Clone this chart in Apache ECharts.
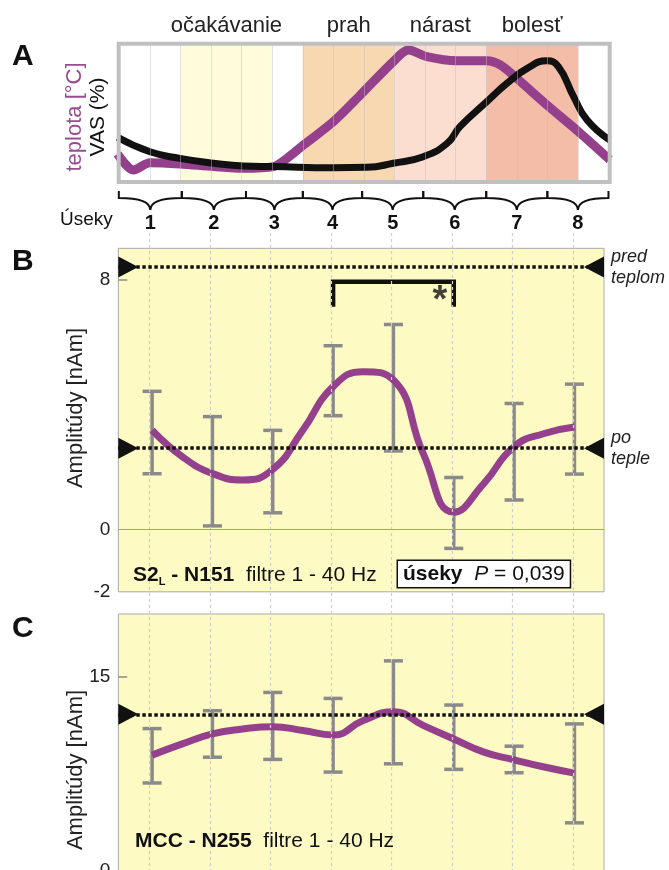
<!DOCTYPE html>
<html>
<head>
<meta charset="utf-8">
<script src="https://cdn.jsdelivr.net/npm/echarts@6/dist/echarts.min.js"></script>
<style>
  html, body { margin: 0; padding: 0; overflow: hidden; background: #fff; }
  #chart { width: 669px; height: 890px; }
</style>
</head>
<body>
<div id="chart"></div>
<script>
// úseky (segments)
const segments = ['1', '2', '3', '4', '5', '6', '7', '8'];
const segX = [1, 2, 3, 4, 5, 6, 7, 8];

// A: stimulus stages
const stageNames = ['očakávanie', 'prah', 'nárast', 'bolesť'];
const stageFrom = [1.5, 3.5, 5.0, 6.5];
const stageTo = [3.0, 5.0, 6.5, 8.0];
const stageColors = ['#fffcdb', '#f8d8b1', '#fbdecf', '#f3bda7'];
const stripeLines = [1, 1.5, 2, 2.5, 3, 3.5, 4, 4.5, 5, 5.5, 6, 6.5, 7, 7.5, 8];
const braceEdges = [0.49, 1.52, 2.57, 3.5, 4.47, 5.47, 6.5, 7.5, 8.5];

// A: teplota / VAS (relative scale)
const tempX = [0.47, 0.73, 1.0, 1.49, 2.04, 2.53, 3.02, 3.24, 3.51, 4.0, 4.44, 4.98, 5.23, 5.53, 6.02, 6.51, 6.73, 7.0, 7.52, 8.04, 8.52];
const tempY = [20, 8.6, 13.8, 12.9, 11.0, 9.8, 11.0, 16.9, 26.4, 43.1, 62.1, 86, 94.3, 89.5, 86.6, 86.6, 83.6, 74, 54, 34.8, 16];
const vasX = [0.47, 1.0, 1.49, 2.04, 2.53, 3.02, 4.0, 4.55, 4.98, 5.47, 5.86, 6.07, 6.51, 6.84, 7.17, 7.49, 7.68, 7.93, 8.15, 8.52];
const vasY = [32, 21.6, 16.9, 13.4, 11.4, 11.0, 10.2, 10.5, 13.4, 18.1, 27.6, 39.5, 57.4, 70.5, 81.2, 86.6, 82.4, 61, 44.3, 30];

// B: S2L - N151
const curveX = [1, 1.5, 2, 2.5, 3, 3.5, 4, 4.5, 5, 5.5, 6, 6.5, 7, 7.5, 8];
const s2Curve = [3.18, 2.33, 1.79, 1.58, 1.92, 3.18, 4.57, 5.05, 4.78, 2.4, 0.55, 1.47, 2.65, 3.07, 3.28];
const s2Hi = [4.42, 3.61, 3.17, 5.88, 6.56, 1.66, 4.03, 4.65];
const s2Lo = [1.78, 0.11, 0.53, 3.64, 2.51, -0.61, 0.94, 1.77];
const s2Pred = 8.4;   // pred teplom
const s2Po = 2.6;     // po teple
const sigPair = [4, 6];
const sigTop = 7.93;
const sigLeg = 7.13;

// C: MCC - N255
const mccCurve = [8.95, 9.82, 10.59, 10.97, 11.15, 10.85, 10.51, 11.62, 12.3, 11.23, 10.2, 9.18, 8.59, 8.03, 7.56];
const mccHi = [11.0, 12.38, 13.79, 13.33, 16.23, 12.82, 9.64, 11.36];
const mccLo = [6.8, 8.79, 8.62, 7.64, 8.28, 7.85, 7.59, 3.72];
const mccBase = 12.1;

const FONT = "'Liberation Sans', Arial, Helvetica, sans-serif";
const PURPLE = '#94408c';
const GREY = '#8a8a8a';
const YELLOW = '#fefac4';

const chart = echarts.init(document.getElementById('chart'));

//chybové úsečky
function errorBar(params, api) {
  const x = api.value(0);
  const hi = api.coord([x, api.value(1)]);
  const lo = api.coord([x, api.value(2)]);
  const w = 9.5;
  const style = { stroke: GREY, lineWidth: 3.5, fill: null };
  return {
    type: 'group',
    children: [
      { type: 'line', shape: { x1: hi[0], y1: hi[1], x2: lo[0], y2: lo[1] }, style: style },
      { type: 'line', shape: { x1: hi[0] - w, y1: hi[1], x2: hi[0] + w, y2: hi[1] }, style: style },
      { type: 'line', shape: { x1: lo[0] - w, y1: lo[1], x2: lo[0] + w, y2: lo[1] }, style: style }
    ]
  };
}

//zložené zátvorky pod panelom A
function brace(params, api) {
  const a = api.coord([api.value(0), 0]);
  const b = api.coord([api.value(1), 0]);
  const y0 = a[1] + 9, y1 = a[1] + 16, y2 = a[1] + 28;
  const xm = (a[0] + b[0]) / 2;
  return {
    type: 'group',
    children: [
      {
        type: 'path',
        shape: { pathData: 'M' + a[0] + ',' + y0 + 'L' + a[0] + ',' + y1 + 'Q' + xm + ',' + y1 + ' ' + xm + ',' + y2 +
          'Q' + xm + ',' + y1 + ' ' + b[0] + ',' + y1 + 'L' + b[0] + ',' + y0 },
        style: { stroke: '#111', lineWidth: 2, fill: null }
      },
      {
        type: 'text', x: xm, y: a[1] + 41,
        style: { text: segments[params.dataIndex], fontSize: 20, fontWeight: 'bold', fontFamily: FONT, fill: '#111', align: 'center', verticalAlign: 'middle' }
      }
    ]
  };
}

function edgeTriangles(xMin, xMax, vals) {
  const out = [];
  vals.forEach(function (v) {
    out.push({ value: [xMin, v], symbol: 'path://M0,0L1,0.5L0,1Z', symbolOffset: [10, 0] });
    out.push({ value: [xMax, v], symbol: 'path://M1,0L0,0.5L1,1Z', symbolOffset: [-10, 0] });
  });
  return out;
}

function dottedLine(v, text) {
  return {
    yAxis: v,
    lineStyle: { color: '#111', width: 3.5, type: [3.5, 2.5] },
    label: text ? {
      show: true, position: 'end', distance: 7, formatter: text,
      fontSize: 18, fontStyle: 'italic', lineHeight: 21, color: '#222', fontFamily: FONT, align: 'left'
    } : { show: false }
  };
}

const bxMin = 0.44, bxMax = 8.49;

const option = {
  animation: false,
  textStyle: { fontFamily: FONT },
  grid: [
    { left: 118.7, top: 43.7, width: 491, height: 138.3, show: true, backgroundColor: 'transparent', borderColor: '#c0c0c0', borderWidth: 4, z: 10 },
    { left: 118.3, top: 248.3, width: 485.7, height: 343.5, show: true, backgroundColor: YELLOW, borderColor: '#a8a8a8', borderWidth: 1 },
    { left: 118.3, top: 614, width: 485.7, height: 257, show: true, backgroundColor: YELLOW, borderColor: '#a8a8a8', borderWidth: 1 },
    { left: 118.3, top: 232, width: 485.7, height: 658 }
  ],
  xAxis: [
    { gridIndex: 0, type: 'value', min: 0.488, max: 8.52, show: false },
    { gridIndex: 1, type: 'value', min: bxMin, max: bxMax, show: false },
    { gridIndex: 2, type: 'value', min: bxMin, max: bxMax, show: false },
    { gridIndex: 3, type: 'value', min: 0.488, max: 8.507, show: false }
  ],
  yAxis: [
    { gridIndex: 0, type: 'value', min: 0, max: 98.8, show: false },
    {
      gridIndex: 1, type: 'value', min: -2, max: 9,
      axisLine: { show: false }, splitLine: { show: false },
      axisTick: { show: true, inside: true, length: 9, customValues: [8], lineStyle: { color: GREY, width: 1.5 } },
      axisLabel: { customValues: [-2, 0, 8], fontSize: 19, color: '#222', margin: 8 }
    },
    {
      gridIndex: 2, type: 'value', min: 0, max: 19.85,
      axisLine: { show: false }, splitLine: { show: false },
      axisTick: { show: true, inside: true, length: 9, customValues: [15], lineStyle: { color: GREY, width: 1.5 } },
      axisLabel: { customValues: [0, 15], fontSize: 19, color: '#222', margin: 8 }
    },
    { gridIndex: 3, type: 'value', min: 0, max: 1, show: false }
  ],
  series: [
    // A: fázy podnetu
    {
      type: 'line', xAxisIndex: 0, yAxisIndex: 0, data: [], symbol: 'none', z: 1,
      markArea: {
        silent: true,
        label: { show: true, position: 'top', distance: 7, fontSize: 22, color: '#222', fontFamily: FONT },
        data: stageNames.map(function (n, i) {
          return [{ xAxis: stageFrom[i], name: n, itemStyle: { color: stageColors[i] } }, { xAxis: stageTo[i] }];
        })
      },
      markLine: {
        silent: true, symbol: ['none', 'none'], label: { show: false },
        lineStyle: { color: 'rgba(190,190,190,0.45)', width: 1, type: 'solid' },
        data: stripeLines.map(function (x) { return { xAxis: x }; })
      }
    },
    {
      name: 'teplota', type: 'line', xAxisIndex: 0, yAxisIndex: 0, z: 3, symbol: 'none', smooth: 0.3,
      lineStyle: { color: PURPLE, width: 9 },
      data: tempX.map(function (x, i) { return [x, tempY[i]]; })
    },
    {
      name: 'VAS', type: 'line', xAxisIndex: 0, yAxisIndex: 0, z: 4, symbol: 'none', smooth: 0.5,
      lineStyle: { color: '#111', width: 7 },
      data: vasX.map(function (x, i) { return [x, vasY[i]]; })
    },
    {
      type: 'custom', xAxisIndex: 0, yAxisIndex: 0, clip: false, silent: true,
      renderItem: brace,
      data: segments.map(function (s, i) { return [braceEdges[i], braceEdges[i + 1]]; })
    },
    // vertikálne pomocné čiary
    {
      type: 'line', xAxisIndex: 3, yAxisIndex: 3, data: [], symbol: 'none', z: 1,
      markLine: {
        silent: true, symbol: ['none', 'none'], label: { show: false },
        lineStyle: { color: '#cfcfcf', width: 1.2, type: [3, 3] },
        data: segX.map(function (x) { return { xAxis: x }; })
      }
    },
    // B
    {
      type: 'line', xAxisIndex: 1, yAxisIndex: 1, data: [], symbol: 'none', z: 2,
      markLine: {
        silent: true, symbol: ['none', 'none'],
        data: [
          { yAxis: 0, lineStyle: { color: '#a0a0a0', width: 1, type: 'solid' }, label: { show: false } },
          dottedLine(s2Pred, 'pred\nteplom'),
          dottedLine(s2Po, 'po\nteple')
        ]
      }
    },
    {
      type: 'custom', xAxisIndex: 1, yAxisIndex: 1, z: 3, renderItem: errorBar,
      data: segX.map(function (x, i) { return [x, s2Hi[i], s2Lo[i]]; })
    },
    {
      type: 'line', xAxisIndex: 1, yAxisIndex: 1, z: 4, symbol: 'none', smooth: 0.5,
      lineStyle: { color: PURPLE, width: 7 },
      data: curveX.map(function (x, i) { return [x, s2Curve[i]]; })
    },
    {
      type: 'line', xAxisIndex: 1, yAxisIndex: 1, z: 4, symbol: 'none',
      lineStyle: { color: '#111', width: 4.5, join: 'miter', cap: 'butt' },
      data: [[sigPair[0], sigLeg], [sigPair[0], sigTop], [sigPair[1], sigTop], [sigPair[1], sigLeg]]
    },
    {
      type: 'scatter', xAxisIndex: 1, yAxisIndex: 1, z: 4, symbolSize: 0, silent: true,
      label: { show: true, formatter: '*', position: 'inside', offset: [0, 9], fontSize: 38, fontWeight: 'bold', color: '#111' },
      data: [[sigPair[1] - 0.23, (sigTop + sigLeg) / 2 + 0.07]]
    },
    {
      type: 'scatter', xAxisIndex: 1, yAxisIndex: 1, z: 5, clip: false, silent: true,
      symbolSize: [20, 21], itemStyle: { color: '#111', opacity: 1 },
      data: edgeTriangles(bxMin, bxMax, [s2Pred, s2Po])
    },
    // C
    {
      type: 'line', xAxisIndex: 2, yAxisIndex: 2, data: [], symbol: 'none', z: 2,
      markLine: { silent: true, symbol: ['none', 'none'], data: [dottedLine(mccBase, null)] }
    },
    {
      type: 'custom', xAxisIndex: 2, yAxisIndex: 2, z: 3, renderItem: errorBar,
      data: segX.map(function (x, i) { return [x, mccHi[i], mccLo[i]]; })
    },
    {
      type: 'line', xAxisIndex: 2, yAxisIndex: 2, z: 4, symbol: 'none', smooth: 0.5,
      lineStyle: { color: PURPLE, width: 7 },
      data: curveX.map(function (x, i) { return [x, mccCurve[i]]; })
    },
    {
      type: 'scatter', xAxisIndex: 2, yAxisIndex: 2, z: 5, clip: false, silent: true,
      symbolSize: [20, 21], itemStyle: { color: '#111', opacity: 1 },
      data: edgeTriangles(bxMin, bxMax, [mccBase])
    }
  ],
  graphic: [
    { type: 'text', x: 12, y: 57, style: { text: 'A', fontSize: 30, fontWeight: 'bold', fontFamily: FONT, fill: '#111', verticalAlign: 'middle' } },
    { type: 'text', x: 12, y: 262, style: { text: 'B', fontSize: 30, fontWeight: 'bold', fontFamily: FONT, fill: '#111', verticalAlign: 'middle' } },
    { type: 'text', x: 12, y: 629, style: { text: 'C', fontSize: 30, fontWeight: 'bold', fontFamily: FONT, fill: '#111', verticalAlign: 'middle' } },
    { type: 'text', x: 75, y: 117, rotation: Math.PI / 2, style: { text: 'teplota [°C]', fontSize: 22, fontFamily: FONT, fill: '#9a4c92', align: 'center', verticalAlign: 'middle' } },
    { type: 'text', x: 98, y: 117, rotation: Math.PI / 2, style: { text: 'VAS (%)', fontSize: 21, fontFamily: FONT, fill: '#111', align: 'center', verticalAlign: 'middle' } },
    { type: 'text', x: 60, y: 220, style: { text: 'Úseky', fontSize: 19, fontFamily: FONT, fill: '#111', verticalAlign: 'middle' } },
    { type: 'text', x: 76, y: 408, rotation: Math.PI / 2, style: { text: 'Amplitúdy [nAm]', fontSize: 22, fontFamily: FONT, fill: '#222', align: 'center', verticalAlign: 'middle' } },
    { type: 'text', x: 76, y: 770, rotation: Math.PI / 2, style: { text: 'Amplitúdy [nAm]', fontSize: 22, fontFamily: FONT, fill: '#222', align: 'center', verticalAlign: 'middle' } },
    {
      type: 'text', x: 133, y: 575, z: 20,
      style: {
        text: '{b|S2}{s|L}{b| - N151}  {r|filtre 1 - 40 Hz}',
        fontFamily: FONT, fontSize: 21, fill: '#111', verticalAlign: 'middle',
        rich: {
          b: { fontSize: 21, fontWeight: 'bold', fontFamily: FONT, lineHeight: 24 },
          s: { fontSize: 11, fontWeight: 'bold', fontFamily: FONT, lineHeight: 24, verticalAlign: 'bottom' },
          r: { fontSize: 21, fontFamily: FONT, lineHeight: 24 }
        }
      }
    },
    {
      type: 'text', x: 398, y: 574, z: 20,
      style: {
        text: '{b|úseky}  {i|P} = 0,039',
        fontFamily: FONT, fontSize: 21, fill: '#111', verticalAlign: 'middle',
        backgroundColor: '#fff', borderColor: '#111', borderWidth: 1.5, padding: [2, 5, 1, 5],
        rich: {
          b: { fontSize: 21, fontWeight: 'bold', fontFamily: FONT, lineHeight: 23 },
          i: { fontSize: 21, fontStyle: 'italic', fontFamily: FONT, lineHeight: 23 }
        }
      }
    },
    {
      type: 'text', x: 135, y: 841, z: 20,
      style: {
        text: '{b|MCC - N255}  {r|filtre 1 - 40 Hz}',
        fontFamily: FONT, fontSize: 21, fill: '#111', verticalAlign: 'middle',
        rich: {
          b: { fontSize: 21, fontWeight: 'bold', fontFamily: FONT },
          r: { fontSize: 21, fontFamily: FONT }
        }
      }
    }
  ]
};

chart.setOption(option);
</script>
</body>
</html>
